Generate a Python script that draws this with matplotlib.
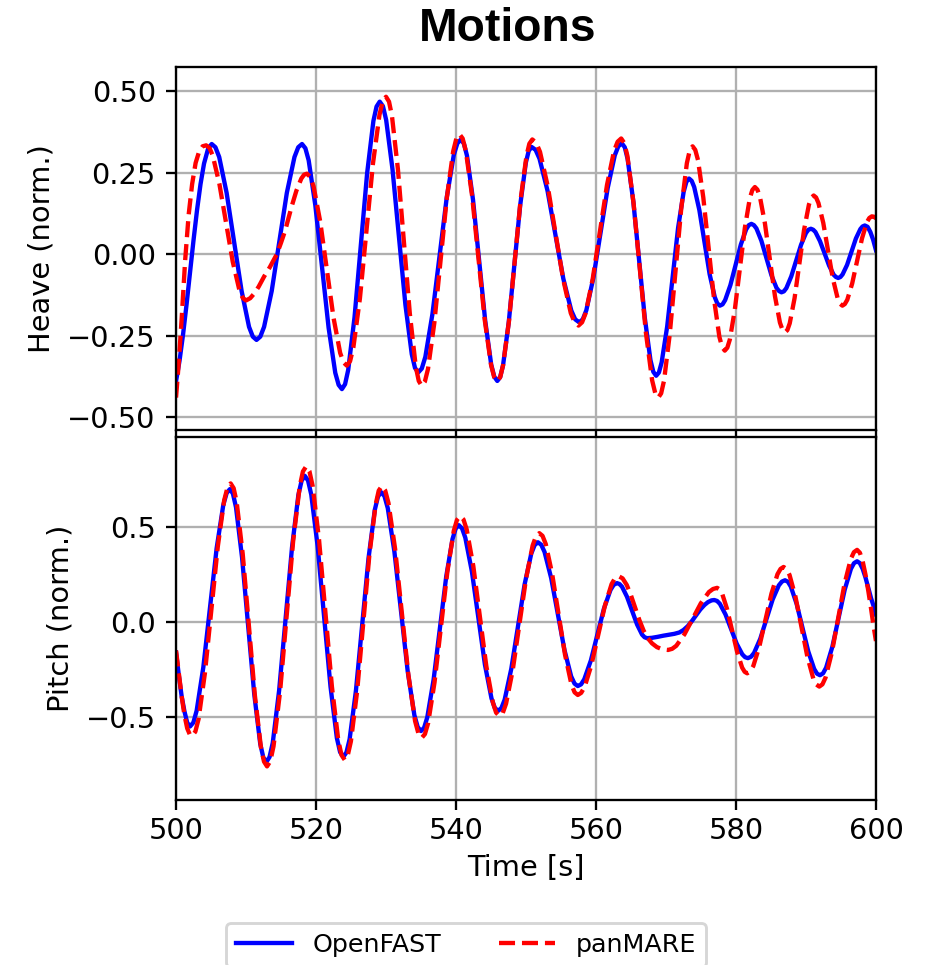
import matplotlib
matplotlib.use('Agg')
import matplotlib.pyplot as plt

# values (time in s, normalised motion)
heave_t_of = [500, 500.5, 501, 501.5, 502, 502.5, 503, 503.5, 504, 504.6,
    505.1, 505.63, 506.17, 507.23, 508.3, 509.37, 510.43, 510.97,
    511.5, 512.04, 512.58, 513.67, 514.75, 515.83, 516.92, 517.46,
    518.0, 518.48, 518.95, 519.9, 520.85, 521.8, 522.75, 523.23,
    523.7, 524.15, 524.6, 525.5, 526.4, 527.3, 528.2, 528.65,
    529.1, 529.56, 530.02, 530.93, 531.85, 532.77, 533.68, 534.14,
    534.6, 535.11, 535.62, 536.63, 537.65, 538.67, 539.68, 540.19,
    540.7, 541.13, 541.57, 542.43, 543.3, 544.17, 545.03, 545.47,
    545.9, 546.31, 546.72, 547.53, 548.35, 549.17, 549.98, 550.39,
    550.8, 551.37, 551.93, 553.07, 554.2, 555.33, 556.47, 557.03,
    557.6, 558.11, 558.62, 559.63, 560.65, 561.67, 562.68, 563.19,
    563.7, 564.11, 564.52, 565.33, 566.15, 566.97, 567.78, 568.19,
    568.6, 568.99, 569.38, 570.17, 570.95, 571.73, 572.52, 572.91,
    573.3, 573.67, 574.03, 574.77, 575.5, 576.23, 576.97, 577.33,
    577.7, 578.08, 578.45, 579.2, 579.95, 580.7, 581.45, 581.83,
    582.2, 582.56, 582.92, 583.63, 584.35, 585.07, 585.78, 586.14,
    586.5, 586.85, 587.2, 587.9, 588.6, 589.3, 590.0, 590.35,
    590.7, 591.03, 591.35, 592.0, 592.65, 593.3, 593.95, 594.28,
    594.6, 594.92, 595.23, 595.87, 596.5, 597.13, 597.77, 598.08,
    598.4, 598.8, 599.2, 599.6, 600.0]
heave_of = [-0.390, -0.327, -0.247, -0.155, -0.056, 0.043, 0.135, 0.215, 0.278, 0.325,
    0.338, 0.328, 0.298, 0.188, 0.037, -0.113, -0.223, -0.253,
    -0.263, -0.253, -0.223, -0.113, 0.037, 0.188, 0.298, 0.328,
    0.338, 0.325, 0.288, 0.150, -0.038, -0.226, -0.364, -0.401,
    -0.414, -0.399, -0.355, -0.194, 0.027, 0.248, 0.409, 0.453,
    0.468, 0.454, 0.412, 0.260, 0.053, -0.155, -0.307, -0.349,
    -0.363, -0.351, -0.315, -0.184, -0.006, 0.173, 0.304, 0.340,
    0.352, 0.339, 0.302, 0.167, -0.019, -0.204, -0.339, -0.376,
    -0.389, -0.377, -0.341, -0.210, -0.030, 0.150, 0.281, 0.317,
    0.329, 0.320, 0.293, 0.195, 0.060, -0.075, -0.173, -0.200,
    -0.209, -0.200, -0.172, -0.072, 0.066, 0.203, 0.303, 0.331,
    0.340, 0.328, 0.292, 0.162, -0.017, -0.195, -0.325, -0.361,
    -0.373, -0.363, -0.332, -0.222, -0.071, 0.081, 0.191, 0.222,
    0.232, 0.225, 0.206, 0.135, 0.037, -0.061, -0.132, -0.151,
    -0.158, -0.154, -0.141, -0.095, -0.033, 0.030, 0.076, 0.089,
    0.093, 0.089, 0.079, 0.041, -0.012, -0.065, -0.103, -0.113,
    -0.117, -0.114, -0.104, -0.068, -0.020, 0.029, 0.065, 0.075,
    0.078, 0.075, 0.068, 0.040, 0.003, -0.035, -0.063, -0.070,
    -0.073, -0.070, -0.062, -0.033, 0.008, 0.048, 0.077, 0.085,
    0.088, 0.084, 0.068, 0.044, 0.012]

heave_t_pm = [500.0, 500.4, 500.8, 501.3, 501.8, 502.3, 502.8, 503.3, 503.8,
    504.3, 504.78, 505.25, 506.2, 507.15, 508.1, 509.05, 509.53,
    510.0, 510.6, 511.2, 511.8, 512.6, 513.4, 514.4, 515.0, 515.6, 516.5, 517.2, 517.9, 518.3,
    518.7, 519.18, 519.65, 520.6, 521.55, 522.5, 523.45, 523.93,
    524.4, 524.87, 525.33, 526.27, 527.2, 528.13, 529.07, 529.53,
    530.0, 530.43, 530.85, 531.7, 532.55, 533.4, 534.25, 534.68,
    535.1, 535.55, 536.0, 536.9, 537.8, 538.7, 539.6, 540.05,
    540.5, 540.95, 541.4, 542.3, 543.2, 544.1, 545.0, 545.45,
    545.9, 546.32, 546.73, 547.57, 548.4, 549.23, 550.07, 550.48,
    550.9, 551.45, 552.0, 553.1, 554.2, 555.3, 556.4, 556.95,
    557.5, 558.01, 558.52, 559.53, 560.55, 561.57, 562.58, 563.09,
    563.6, 564.04, 564.48, 565.37, 566.25, 567.13, 568.02, 568.46,
    568.9, 569.31, 569.72, 570.53, 571.35, 572.17, 572.98, 573.39,
    573.8, 574.18, 574.57, 575.33, 576.1, 576.87, 577.63, 578.02,
    578.4, 578.76, 579.12, 579.83, 580.55, 581.27, 581.98, 582.34,
    582.7, 583.06, 583.42, 584.13, 584.85, 585.57, 586.28, 586.64,
    587.0, 587.34, 587.68, 588.37, 589.05, 589.73, 590.42, 590.76,
    591.1, 591.44, 591.78, 592.47, 593.15, 593.83, 594.52, 594.86,
    595.2, 595.55, 595.9, 596.6, 597.3, 598.0, 598.7, 599.05,
    599.4, 599.7, 600.0]
heave_pm = [-0.440, -0.330, -0.200, -0.020, 0.120, 0.215, 0.280, 0.315, 0.331,
    0.334, 0.326, 0.302, 0.215, 0.096, -0.023, -0.110, -0.134,
    -0.142, -0.135, -0.120, -0.100, -0.068, -0.040, 0.000, 0.035, 0.073, 0.145, 0.195, 0.232, 0.244,
    0.247, 0.237, 0.208, 0.100, -0.048, -0.195, -0.303, -0.332,
    -0.342, -0.328, -0.287, -0.136, 0.071, 0.277, 0.428, 0.469,
    0.483, 0.468, 0.424, 0.261, 0.040, -0.182, -0.345, -0.389,
    -0.404, -0.391, -0.352, -0.211, -0.018, 0.175, 0.316, 0.355,
    0.368, 0.355, 0.317, 0.179, -0.011, -0.201, -0.339, -0.377,
    -0.390, -0.377, -0.340, -0.205, -0.019, 0.167, 0.302, 0.339,
    0.352, 0.342, 0.314, 0.209, 0.067, -0.076, -0.181, -0.209,
    -0.219, -0.209, -0.181, -0.076, 0.068, 0.212, 0.317, 0.345,
    0.355, 0.341, 0.302, 0.156, -0.043, -0.241, -0.387, -0.426,
    -0.440, -0.427, -0.388, -0.247, -0.055, 0.138, 0.279, 0.318,
    0.331, 0.320, 0.289, 0.174, 0.018, -0.139, -0.254, -0.285,
    -0.296, -0.287, -0.262, -0.171, -0.045, 0.081, 0.172, 0.197,
    0.206, 0.198, 0.176, 0.095, -0.017, -0.129, -0.210, -0.232,
    -0.240, -0.233, -0.212, -0.135, -0.030, 0.075, 0.152, 0.173,
    0.180, 0.174, 0.157, 0.096, 0.011, -0.074, -0.135, -0.152,
    -0.158, -0.153, -0.140, -0.090, -0.021, 0.048, 0.098, 0.111,
    0.116, 0.115, 0.110]

pitch_t_of = [500.0, 500.4, 500.8, 501.2, 501.6,
    502.0, 502.48, 502.95, 503.9, 504.85, 505.8, 506.75, 507.23,
    507.7, 508.13, 508.57, 509.43, 510.3, 511.17, 512.03, 512.47,
    512.9, 513.36, 513.82, 514.73, 515.65, 516.57, 517.48, 517.94,
    518.4, 518.86, 519.32, 520.23, 521.15, 522.07, 522.98, 523.44,
    523.9, 524.35, 524.8, 525.7, 526.6, 527.5, 528.4, 528.85,
    529.3, 529.78, 530.25, 531.2, 532.15, 533.1, 534.05, 534.53,
    535.0, 535.45, 535.9, 536.8, 537.7, 538.6, 539.5, 539.95,
    540.4, 540.87, 541.33, 542.27, 543.2, 544.13, 545.07, 545.53,
    546.0, 546.48, 546.95, 547.9, 548.85, 549.8, 550.75, 551.23,
    551.7, 552.18, 552.65, 553.6, 554.55, 555.5, 556.45, 556.93,
    557.4, 557.87, 558.33, 559.27, 560.2, 561.13, 562.07, 562.53,
    563.0, 563.36, 563.72, 564.43, 565.15, 565.87, 566.58, 566.94,
    567.3, 568.0, 568.8, 569.6, 570.4, 571.2, 571.9, 572.5, 573.1, 573.7, 574.3, 574.9, 575.5, 576.0, 576.5,
    576.9, 577.3, 577.7, 578.5, 579.3, 580.1, 580.9, 581.3,
    581.7, 582.14, 582.58, 583.47, 584.35, 585.23, 586.12, 586.56,
    587.0, 587.42, 587.83, 588.67, 589.5, 590.33, 591.17, 591.58,
    592.0, 592.44, 592.88, 593.77, 594.65, 595.53, 596.42, 596.86,
    597.3, 597.7, 598.1, 598.5, 598.9, 599.3, 599.65, 600.0]
pitch_of = [-0.160, -0.280, -0.390, -0.470, -0.530,
    -0.550, -0.529, -0.466, -0.238, 0.075, 0.388, 0.616, 0.679,
    0.700, 0.676, 0.604, 0.341, -0.019, -0.378, -0.641, -0.713,
    -0.737, -0.711, -0.636, -0.360, 0.017, 0.393, 0.669, 0.744,
    0.770, 0.745, 0.671, 0.400, 0.030, -0.340, -0.611, -0.685,
    -0.710, -0.686, -0.617, -0.362, -0.013, 0.336, 0.591, 0.660,
    0.684, 0.663, 0.600, 0.370, 0.055, -0.260, -0.490, -0.553,
    -0.574, -0.556, -0.501, -0.303, -0.032, 0.239, 0.437, 0.492,
    0.510, 0.493, 0.444, 0.266, 0.021, -0.224, -0.402, -0.451,
    -0.468, -0.453, -0.409, -0.246, -0.024, 0.198, 0.360, 0.405,
    0.420, 0.407, 0.369, 0.231, 0.042, -0.148, -0.286, -0.324,
    -0.337, -0.328, -0.301, -0.202, -0.066, 0.070, 0.169, 0.196,
    0.205, 0.200, 0.186, 0.133, 0.060, -0.013, -0.066, -0.080,
    -0.085, -0.083, -0.078, -0.072, -0.067, -0.062, -0.055, -0.042, -0.022, 0.005, 0.036, 0.066, 0.090, 0.105, 0.114,
    0.116, 0.111, 0.096, 0.040, -0.037, -0.114, -0.170, -0.185,
    -0.190, -0.183, -0.163, -0.088, 0.015, 0.118, 0.193, 0.213,
    0.220, 0.212, 0.187, 0.095, -0.030, -0.155, -0.247, -0.272,
    -0.280, -0.270, -0.240, -0.130, 0.020, 0.170, 0.280, 0.310,
    0.320, 0.310, 0.280, 0.235, 0.180, 0.125, 0.085, 0.040]

pitch_t_pm = [500.0, 500.4, 500.8, 501.2, 501.6, 502.0,
    502.3, 502.76, 503.22, 504.13, 505.05, 505.97, 506.88, 507.34,
    507.8, 508.23, 508.67, 509.53, 510.4, 511.27, 512.13, 512.57,
    513.0, 513.47, 513.93, 514.87, 515.8, 516.73, 517.67, 518.13,
    518.6, 519.06, 519.52, 520.43, 521.35, 522.27, 523.18, 523.64,
    524.1, 524.54, 524.98, 525.87, 526.75, 527.63, 528.52, 528.96,
    529.4, 529.88, 530.35, 531.3, 532.25, 533.2, 534.15, 534.63,
    535.1, 535.56, 536.02, 536.93, 537.85, 538.77, 539.68, 540.14,
    540.6, 541.07, 541.53, 542.47, 543.4, 544.33, 545.27, 545.73,
    546.2, 546.68, 547.15, 548.1, 549.05, 550.0, 550.95, 551.43,
    551.9, 552.36, 552.82, 553.73, 554.65, 555.57, 556.48, 556.94,
    557.4, 557.88, 558.37, 559.33, 560.3, 561.27, 562.23, 562.72,
    563.2, 563.8, 564.4, 565.0, 565.6, 566.2, 566.8, 567.4, 568.0, 568.7, 569.5,
    570.3, 570.88, 571.47, 572.63, 573.8, 574.97, 576.13, 576.72,
    577.3, 577.66, 578.02, 578.73, 579.45, 580.17, 580.88, 581.24,
    581.6, 582.03, 582.47, 583.33, 584.2, 585.07, 585.93, 586.37,
    586.8, 587.23, 587.65, 588.5, 589.35, 590.2, 591.05, 591.48,
    591.9, 592.35, 592.8, 593.7, 594.6, 595.5, 596.4, 596.85,
    597.3, 597.7, 598.1, 598.5, 598.9, 599.3, 599.65, 600.0]
pitch_pm = [-0.150, -0.270, -0.390, -0.490, -0.560, -0.595,
    -0.600, -0.577, -0.511, -0.268, 0.065, 0.398, 0.641, 0.707,
    0.730, 0.705, 0.630, 0.358, -0.015, -0.388, -0.660, -0.735,
    -0.760, -0.733, -0.654, -0.365, 0.030, 0.425, 0.714, 0.793,
    0.820, 0.794, 0.716, 0.434, 0.047, -0.340, -0.622, -0.700,
    -0.726, -0.701, -0.629, -0.366, -0.005, 0.356, 0.619, 0.692,
    0.716, 0.693, 0.627, 0.385, 0.053, -0.279, -0.521, -0.587,
    -0.610, -0.590, -0.532, -0.318, -0.026, 0.266, 0.480, 0.538,
    0.558, 0.540, 0.487, 0.295, 0.032, -0.232, -0.424, -0.477,
    -0.495, -0.479, -0.430, -0.254, -0.014, 0.227, 0.403, 0.452,
    0.468, 0.454, 0.411, 0.255, 0.042, -0.171, -0.327, -0.370,
    -0.384, -0.373, -0.342, -0.228, -0.071, 0.086, 0.200, 0.231,
    0.242, 0.230, 0.195, 0.140, 0.075, 0.010, -0.045, -0.085, -0.112, -0.132, -0.144,
    -0.147, -0.141, -0.125, -0.065, 0.017, 0.098, 0.158, 0.174,
    0.180, 0.172, 0.150, 0.068, -0.045, -0.158, -0.240, -0.262,
    -0.270, -0.260, -0.232, -0.130, 0.010, 0.150, 0.252, 0.280,
    0.290, 0.279, 0.248, 0.133, -0.025, -0.183, -0.298, -0.329,
    -0.340, -0.328, -0.292, -0.160, 0.020, 0.200, 0.332, 0.368,
    0.380, 0.365, 0.320, 0.250, 0.165, 0.070, -0.020, -0.100]

fig, (ax1, ax2) = plt.subplots(2, 1, sharex=True, figsize=(925/208, 965/208), dpi=208)
fig.subplots_adjust(left=0.1903, right=0.947, top=0.9303, bottom=0.171, hspace=0.019)

ax1.plot(heave_t_of, heave_of, color='blue', lw=1.5, label='OpenFAST')
ax1.plot(heave_t_pm, heave_pm, color='red', lw=1.5, ls='--', label='panMARE')
ax1.set_ylabel('Heave (norm.)')
ax1.set_ylim(-0.540, 0.5735)
ax1.set_yticks([-0.5, -0.25, 0.0, 0.25, 0.5])
ax1.grid(True)

ax2.plot(pitch_t_of, pitch_of, color='blue', lw=1.5)
ax2.plot(pitch_t_pm, pitch_pm, color='red', lw=1.5, ls='--')
ax2.set_ylabel('Pitch (norm.)')
ax2.set_ylim(-0.937, 0.974)
ax2.set_yticks([-0.5, 0.0, 0.5])
ax2.grid(True)
ax2.set_xlim(500, 600)
ax2.tick_params(axis='x', pad=2.5)
ax2.set_xlabel('Time [s]', labelpad=3)

fig.text(508/925, 1 - 29/965, 'Motions', ha='center', va='center',
         fontsize=16, fontweight='bold', family='Liberation Sans')

h, l = ax1.get_legend_handles_labels()
fig.legend(h, l, loc='upper center', bbox_to_anchor=(466/925, 1 - 910/965),
           ncol=2, fontsize=8.8, handlelength=2.2, columnspacing=2.3)

fig.savefig('out.png', dpi=208)
